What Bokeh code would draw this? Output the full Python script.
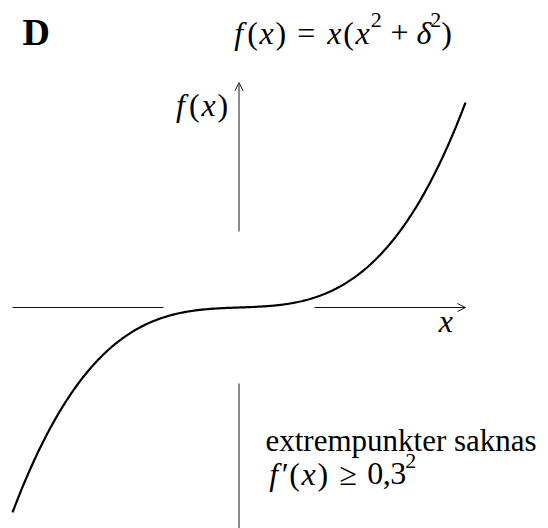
import numpy as np
from bokeh.plotting import figure
from bokeh.models import Range1d, Arrow, OpenHead, ColumnDataSource
from bokeh.core.properties import value
from bokeh.embed import file_html
from bokeh.resources import INLINE

# --- function and sketch parameters -------------------------------------
DELTA = 0.3                     # f(x) = x(x^2 + delta^2)
X_DOMAIN = [-1.5, 1.5]          # plotted interval of x
H_AXIS = [-1.5, 1.5]            # horizontal axis extent
H_GAP = [-0.5, 0.5]             # axis interrupted where the curve runs flat
V_AXIS = [-3.85, 3.85]          # vertical axis extent
V_GAP = [-1.3, 1.3]

PANEL_LABEL = "D"
NOTE_LINE = "extrempunkter saknas"

# --- canvas / scale -------------------------------------------------------
W, H = 548, 528
OX, OY = 238.5, 307.0           # pixel position of the origin
SX, SY = 151.0, 58.4            # pixels per unit in x and y

FONT = "Liberation Serif"
EM = 29.5                        # width unit used to space math glyphs
FS = 32                          # font size of math glyphs (px)


def ux(px):
    return (px - OX) / SX


def uy(py):
    return (OY - py) / SY


p = figure(width=W, height=H, output_backend="svg", toolbar_location=None,
           x_range=Range1d(ux(0), ux(W)), y_range=Range1d(uy(H), uy(0)),
           min_border=0, outline_line_color=None)
p.axis.visible = False
p.grid.visible = False
p.background_fill_color = "white"
p.border_fill_color = "white"

# --- axes (interrupted around the flat part of the curve) -----------------
axis_black = "#111111"
axis_grey = "#5a5a5a"
p.line([H_AXIS[0], H_GAP[0]], [0, 0], line_color=axis_black, line_width=1)
p.add_layout(Arrow(end=OpenHead(size=8, line_width=1, line_color=axis_black),
                   x_start=H_GAP[1], y_start=0, x_end=H_AXIS[1], y_end=0,
                   line_color=axis_black, line_width=1))
p.line([0, 0], [V_AXIS[0], V_GAP[0]], line_color=axis_grey, line_width=1.4)
p.add_layout(Arrow(end=OpenHead(size=8, line_width=1, line_color=axis_black),
                   x_start=0, y_start=V_GAP[1], x_end=0, y_end=V_AXIS[1],
                   line_color=axis_grey, line_width=1.4))

# --- curve -----------------------------------------------------------------
xs = np.linspace(X_DOMAIN[0], X_DOMAIN[1], 401)
ys = xs * (xs ** 2 + DELTA ** 2)
p.line(xs, ys, line_color="black", line_width=2.2)


# --- typeset helper: places glyph runs in cells of given widths -------------
def typeset(runs, x0, base, sup_raise=12.5):
    groups = {"it": ([], [], []), "rm": ([], [], []), "sup": ([], [], [])}
    x = x0
    for txt, kind, w in runs:
        wpx = w * EM
        if kind != "sp":
            yb = base - (sup_raise if kind == "sup" else 0.0)
            g = groups[kind]
            g[0].append(ux(x + wpx / 2))
            g[1].append(uy(yb))
            g[2].append(txt)
        x += wpx
    for kind, (gx, gy, gt) in groups.items():
        if not gx:
            continue
        src = ColumnDataSource(dict(x=gx, y=gy, t=gt))
        p.text("x", "y", text="t", source=src,
               text_font=value(FONT),
               text_font_size="%dpx" % (round(FS * 0.7) if kind == "sup" else FS),
               text_font_style="italic" if kind == "it" else "normal",
               text_align="center", text_baseline="alphabetic",
               text_color="black")
    return x


def width(runs):
    return sum(w for _, _, w in runs) * EM


# panel letter
p.text([ux(22)], [uy(31)], text=[PANEL_LABEL], text_font=value(FONT),
       text_font_size="38px", text_font_style="bold",
       text_align="left", text_baseline="alphabetic", text_color="black")

# title formula  f(x) = x(x^2 + δ^2)
title_runs = [("f", "it", .55), ("(", "rm", .389), ("x", "it", .572), (")", "rm", .389),
              ("", "sp", .278), ("=", "rm", .778), ("", "sp", .278),
              ("x", "it", .572), ("(", "rm", .389), ("x", "it", .572), ("2", "sup", .35),
              ("", "sp", .222), ("+", "rm", .778), ("", "sp", .222),
              ("δ", "it", .444), ("2", "sup", .35), (")", "rm", .389)]
typeset(title_runs, 230, 32)

# y-axis label f(x), right aligned next to the arrow
fx_runs = [("f", "it", .55), ("(", "rm", .389), ("x", "it", .572), (")", "rm", .389)]
typeset(fx_runs, 228 - width(fx_runs), 104)

# x-axis label
typeset([("x", "it", .572)], 437, 320)

# note text
p.text([ux(265)], [uy(440)], text=[NOTE_LINE], text_font=value(FONT),
       text_font_size="31px", text_align="left", text_baseline="alphabetic",
       text_color="black")

# f'(x) >= 0,3^2
deriv_runs = [("f", "it", .55), ("′", "rm", .24), ("(", "rm", .389), ("x", "it", .572),
              (")", "rm", .389), ("", "sp", .278), ("≥", "rm", .778), ("", "sp", .278),
              ("0", "rm", .5), (",", "rm", .278), ("3", "rm", .5), ("2", "sup", .35)]
typeset(deriv_runs, 265, 473)

open("out.html", "w").write(file_html(p, INLINE))
